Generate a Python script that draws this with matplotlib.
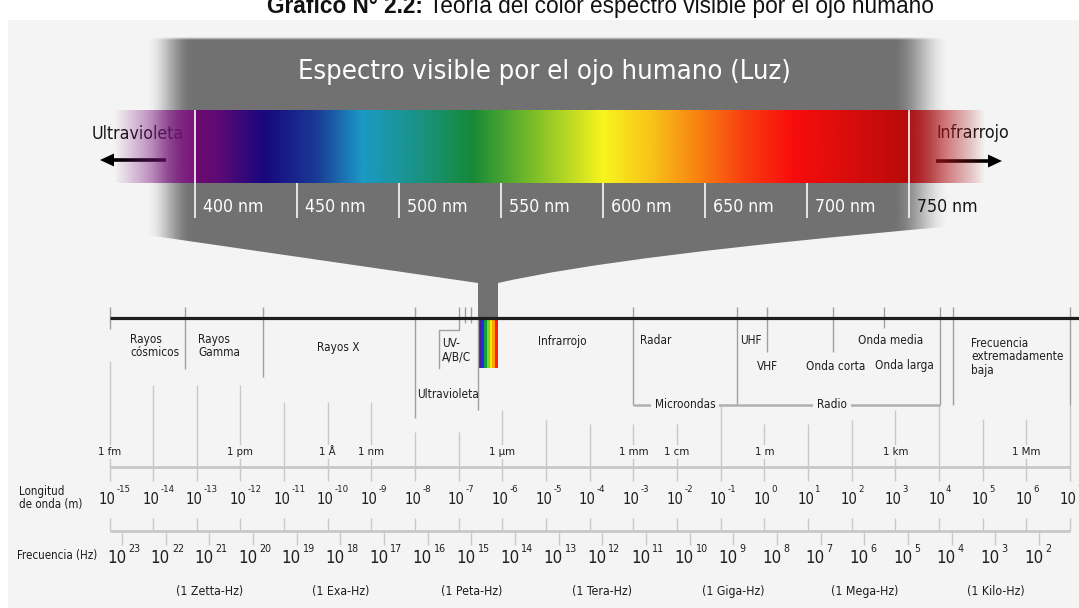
import numpy as np
import matplotlib
matplotlib.use("Agg")
import matplotlib.pyplot as plt
from matplotlib import font_manager as fm
from matplotlib.colors import to_rgb
from matplotlib.patches import Rectangle, PathPatch, FancyArrow
from matplotlib.path import Path
from matplotlib.transforms import offset_copy

# ---------------- data ----------------
title_bold = "Gráfico N° 2.2:"
title_rest = "Teoría del color espectro visible por el ojo humano"
spectrum_title = "Espectro visible por el ojo humano (Luz)"

nm_ticks = [400, 450, 500, 550, 600, 650, 700, 750]
nm_labels = [f"{v} nm" for v in nm_ticks]
spec_nm = [400, 410, 434, 460, 482, 505, 536, 565, 600, 625, 650, 670, 694, 725, 750]
spec_colors = ['#6e0a70', '#600a74', '#17077e', '#1a3c96', '#1a9ac6', '#1a9490',
               '#168a38', '#78bc28', '#f8f41e', '#f8c018', '#f87810', '#f83c10',
               '#f80c0c', '#d40c0c', '#b80a0a']
uv_text = "Ultravioleta"
ir_text = "Infrarrojo"

wl_exps = list(range(-15, 8))
unit_exps = [-15, -12, -10, -9, -6, -3, -2, 0, 3, 6]
unit_labels = ['1 fm', '1 pm', '1 Å', '1 nm', '1 µm', '1 mm', '1 cm', '1 m', '1 km', '1 Mm']
freq_exps = list(range(23, 1, -1))
freq_name_exps = [21, 18, 15, 12, 9, 6, 3]
freq_names = ['(1 Zetta-Hz)', '(1 Exa-Hz)', '(1 Peta-Hz)', '(1 Tera-Hz)',
              '(1 Giga-Hz)', '(1 Mega-Hz)', '(1 Kilo-Hz)']
FREQ_SHIFT = 8.29   # log10 wavelength of a frequency tick = FREQ_SHIFT - log10 f

band_edges = [-15.0, -13.27, -11.49, -8.0, -3.0, -0.63, 0.06, 1.57, 2.74, 4.02, 4.31, 7.0]
uv_sub_edges = [-7.0, -6.86, -6.72]
visible_exp = (-6.55, -6.10)
rainbow = ['#4a1a9a', '#1e2ed6', '#10a040', '#8cd020', '#f4ec00', '#ffa000', '#ff2010']
band_names = ["Rayos\ncósmicos", "Rayos\nGamma", "Rayos X", "UV-\nA/B/C", "Ultravioleta",
              "Infrarrojo", "Radar", "UHF", "VHF", "Onda corta", "Onda media",
              "Onda larga", "Frecuencia\nextremadamente\nbaja"]
band_name_x = [-14.53, -12.97, -9.77, -7.39, -7.95, -5.19, -2.85, -0.56, -0.17,
               0.95, 2.14, 2.53, 4.73]
bracket_names = ["Microondas", "Radio"]
bracket_span = (-3.0, 4.02)
bracket_name_x = [-1.82, 1.55]
axis_names = ["Longitud\nde onda (m)", "Frecuencia (Hz)"]

# ---------------- layout / style ----------------
W, H = 1079, 608
BG = '#f4f4f4'
GRAY = '#717171'
LINE = '#c8c8c8'
EDGE = '#a0a0a0'
TXT = '#1e1e1e'
PX0, PPD = 764.4, 43.66          # pixel of 10^0 m, pixels per decade
NM0_PX, PPN = 195.0, 2.04        # pixel of 400 nm, pixels per nm

band_name_y = [346, 346, 347, 350, 395, 341, 341, 341, 366, 366, 341, 366, 357]
band_name_ha = ['left', 'left', 'center', 'left', 'left', 'left', 'left', 'left',
                'left', 'left', 'left', 'left', 'left']
band_name_w = [49, 41, 43, 33, 62, 52, 30, 20, 18, 59, 63, 59, 88]
band_edge_bottom = [329, 369, 377, 418, 405, 405, 352, 352, 328, 405, 405, 405]
grid_top = [361, 385, 385, 385, 402, 402, 402, 432, 432, 410, 420, 424, 424, 424,
            406, 424, 424, 420, 410, 405, 419, 419, 405]
unit_w = [28, 27, 17, 27, 26, 29, 26, 19, 26, 27]
freq_name_w = [67, 57, 63, 61, 62, 68, 56]
TITLE_X0, TITLE_W, TITLE_BASE = 267, 669, 13


def pick_narrow():
    names = {f.name for f in fm.fontManager.ttflist}
    if 'Liberation Sans Narrow' in names:
        return dict(family='Liberation Sans Narrow')
    for f in fm.fontManager.ttflist:
        if f.name == 'DejaVu Sans' and 'condensed' in str(f.stretch).lower():
            return dict(family='DejaVu Sans', stretch='condensed')
    return dict(family='DejaVu Sans')


NARROW = pick_narrow()

fig = plt.figure(figsize=(W / 100, H / 100), dpi=100, facecolor='white')


def overlay(xlim, z):
    ax = fig.add_axes([0, 0, 1, 1], zorder=z)
    ax.set_xlim(*xlim)
    ax.set_ylim(H, 0)
    ax.axis('off')
    ax.patch.set_visible(False)
    return ax


ax_px = overlay((0, W), 0)
ax_nm = overlay((400 - NM0_PX / PPN, 400 + (W - NM0_PX) / PPN), 1)
ax_wl = overlay((-PX0 / PPD, (W - PX0) / PPD), 2)

groups = {}


def T(ax, x, y, s, group=None, target=None, **kw):
    t = ax.text(x, y, s, **kw)
    if group is not None:
        groups.setdefault(group, []).append((t, target))
    return t


def smooth(t):
    t = np.clip(t, 0, 1)
    return t * t * (3 - 2 * t)


# background
ax_px.add_patch(Rectangle((8, 20), W - 8, H - 20, fc=BG, ec='none', zorder=0))

# page title (cut at the top, as in the source)
t_bold = ax_px.text(TITLE_X0, TITLE_BASE, title_bold, ha='left', va='baseline',
                    family='Liberation Sans', fontweight='bold', fontsize=16,
                    color='#111111')
t_rest = ax_px.text(TITLE_X0 + 160, TITLE_BASE, title_rest, ha='left', va='baseline',
                    family='Liberation Sans', fontsize=16, color='#111111')

# gray funnel
MO, LI, C3, CL = Path.MOVETO, Path.LINETO, Path.CURVE3, Path.CLOSEPOLY
verts = [(140, 37), (955, 37), (955, 226), (620, 255), (498, 283), (498, 319),
         (478, 319), (478, 283), (140, 234), (140, 37)]
codes = [MO, LI, LI, C3, C3, LI, LI, LI, LI, CL]
funnel = PathPatch(Path(verts, codes), fc='none', ec='none')
ax_px.add_patch(funnel)
xs = np.linspace(140, 955, 816)
ys = np.linspace(37, 320, 284)
alpha = np.outer(smooth((ys - 36) / 4.0),
                 smooth((xs - 146) / 46.0) * smooth((950 - xs) / 57.0))
rgba = np.zeros((len(ys), len(xs), 4))
rgba[..., :3] = to_rgb(GRAY)
rgba[..., 3] = alpha
im = ax_px.imshow(rgba, extent=(140, 955, 320, 37), origin='upper', aspect='auto',
                  interpolation='bilinear', zorder=1)
im.set_clip_path(funnel)
ax_px.set_xlim(0, W)
ax_px.set_ylim(H, 0)

T(ax_px, 544, 72, spectrum_title, 'spec', 492, ha='center', va='center',
  color='white', fontsize=20, **NARROW)

# visible spectrum bar
nm = np.linspace(400, 750, 701)
cols = np.array([to_rgb(c) for c in spec_colors])
grad = np.stack([np.interp(nm, spec_nm, cols[:, i]) for i in range(3)], axis=-1)
ax_nm.imshow(grad[None], extent=(400, 750, 183, 110), aspect='auto',
             interpolation='bilinear', zorder=2)
UV_START = 400 - (NM0_PX - 114) / PPN
IR_END = 750 + (985 - 909) / PPN
nmu = np.linspace(UV_START, 400, 120)
uv = np.zeros((1, len(nmu), 4))
uv[..., :3] = to_rgb('#7c1480')
uv[0, :, 3] = (nmu - UV_START) / (400 - UV_START)
ax_nm.imshow(uv, extent=(UV_START, 400, 183, 110), aspect='auto',
             interpolation='bilinear', zorder=2)
nmi = np.linspace(750, IR_END, 120)
ir = np.zeros((1, len(nmi), 4))
ir[..., :3] = to_rgb('#b01418')
ir[0, :, 3] = (1 - (nmi - 750) / (IR_END - 750)) ** 0.9
ax_nm.imshow(ir, extent=(750, IR_END, 183, 110), aspect='auto',
             interpolation='bilinear', zorder=2)
ax_nm.set_xlim(400 - NM0_PX / PPN, 400 + (W - NM0_PX) / PPN)
ax_nm.set_ylim(H, 0)

ax_nm.vlines([nm_ticks[0], nm_ticks[-1]], 110, 218, color='#eeeeee', lw=1.3, zorder=3)
ax_nm.vlines(nm_ticks[1:-1], 183, 218, color='#eeeeee', lw=1.3, zorder=3)
tr_nm = offset_copy(ax_nm.transData, fig=fig, x=8, y=0, units='dots')
for v, lab in zip(nm_ticks, nm_labels):
    T(ax_nm, v, 207, lab, 'top', 61, ha='left', va='center', transform=tr_nm,
      color='white' if v < 750 else '#151515', fontsize=13, zorder=4, **NARROW)

T(ax_px, 138, 134, uv_text, 'top', 93, ha='center', va='center', color='#151515',
  fontsize=13, zorder=4, **NARROW)
T(ax_px, 973, 133, ir_text, 'top', 76, ha='center', va='center', color='#151515',
  fontsize=13, zorder=4, **NARROW)
ax_px.add_patch(FancyArrow(166, 160, -66, 0, width=3.6, head_width=13, head_length=14,
                           length_includes_head=True, fc='black', ec='none', zorder=5))
ax_px.add_patch(FancyArrow(936, 161, 66, 0, width=3.6, head_width=13, head_length=14,
                           length_includes_head=True, fc='black', ec='none', zorder=5))

# ---------------- lower chart (x = log10 wavelength in m) ----------------
XR = (W - PX0) / PPD
edges = np.linspace(visible_exp[0], visible_exp[1], len(rainbow) + 1)
ax_wl.bar((edges[:-1] + edges[1:]) / 2, 50, width=np.diff(edges), bottom=318,
          color=rainbow, align='center', zorder=2, linewidth=0)
ax_wl.plot([wl_exps[0], XR], [318, 318], color='#1e1e1e', lw=2.3, zorder=4,
           solid_capstyle='butt')
ax_wl.vlines(band_edges, 307, band_edge_bottom, color=EDGE, lw=1.0, zorder=3)
ax_wl.vlines(uv_sub_edges, 307, 323, color=EDGE, lw=1.0, zorder=3)
ax_wl.plot([uv_sub_edges[0], uv_sub_edges[0], -7.45, -7.45], [323, 330, 330, 368],
           color=EDGE, lw=1.0, zorder=3)
ax_wl.vlines(visible_exp[0], 318, 410, color=EDGE, lw=1.0, zorder=3)
ax_wl.plot(bracket_span, [405, 405], color='#b0b0b0', lw=1.8, zorder=3,
           solid_capstyle='butt')

for s, x, y, ha, w in zip(band_names, band_name_x, band_name_y, band_name_ha, band_name_w):
    T(ax_wl, x, y, s, 'band', w, ha=ha, va='center', color=TXT, fontsize=8.5,
      linespacing=1.05, zorder=5, **NARROW)
for s, x in zip(bracket_names, bracket_name_x):
    T(ax_wl, x, 405, s, 'band', None, ha='center', va='center', color=TXT,
      fontsize=8.5, zorder=5,
      bbox=dict(boxstyle='square,pad=0.35', fc=BG, ec='none'), **NARROW)

# wavelength grid and axes
ax_wl.vlines(wl_exps, grid_top, 481, color=LINE, lw=1.0, zorder=1)
ax_wl.hlines([467, 531], wl_exps[0], wl_exps[-1], color=LINE, lw=2.0, zorder=1)
ax_wl.vlines(wl_exps, 518, 531, color=LINE, lw=1.0, zorder=1)
f_pos = [FREQ_SHIFT - f for f in freq_exps]
ax_wl.vlines(f_pos, 531, 545, color=LINE, lw=1.0, zorder=1)

for e, s, w in zip(unit_exps, unit_labels, unit_w):
    T(ax_wl, e, 452, s, 'unit', w, ha='center', va='center', color=TXT, fontsize=9.5,
      zorder=5, bbox=dict(boxstyle='square,pad=0.15', fc=BG, ec='none'), **NARROW)

tr_b = offset_copy(ax_wl.transData, fig=fig, x=6, y=0, units='dots')
tr_e = offset_copy(ax_wl.transData, fig=fig, x=7, y=0, units='dots')
for e in wl_exps:
    T(ax_wl, e, 499, '10', 'b10', 17, ha='right', va='center', transform=tr_b,
      color=TXT, fontsize=10.5, zorder=5, **NARROW)
    T(ax_wl, e, 490, str(e), 'b10', None, ha='left', va='center', transform=tr_e,
      color=TXT, fontsize=10.5 * 0.64, zorder=5, **NARROW)

tr_fb = offset_copy(ax_wl.transData, fig=fig, x=4, y=0, units='dots')
tr_fe = offset_copy(ax_wl.transData, fig=fig, x=6, y=0, units='dots')
for f, x in zip(freq_exps, f_pos):
    T(ax_wl, x, 558, '10', 'f10', 19, ha='right', va='center', transform=tr_fb,
      color=TXT, fontsize=11, zorder=5, **NARROW)
    T(ax_wl, x, 549, str(f), 'f10', None, ha='left', va='center', transform=tr_fe,
      color=TXT, fontsize=11 * 0.64, zorder=5, **NARROW)

for f, s, w in zip(freq_name_exps, freq_names, freq_name_w):
    T(ax_wl, FREQ_SHIFT - f, 591, s, 'fname', w, ha='center', va='center', color=TXT,
      fontsize=8.8, zorder=5, **NARROW)

T(ax_px, 19, 498, axis_names[0], 'axn', 67, ha='left', va='center', color=TXT,
  fontsize=8.5, linespacing=1.05, **NARROW)
T(ax_px, 17, 556, axis_names[1], 'axn', 76.5, ha='left', va='center', color=TXT,
  fontsize=8.5, **NARROW)

# fit text sizes to the reference widths (group-wise)
fig.canvas.draw()
r = fig.canvas.get_renderer()
for g, items in groups.items():
    ratios = [tw / t.get_window_extent(r).width for t, tw in items if tw]
    k = float(np.median(ratios))
    for t, _ in items:
        t.set_fontsize(t.get_fontsize() * k)

# title: bold part + regular part spanning the reference width
wb = t_bold.get_window_extent(r).width
wr = t_rest.get_window_extent(r).width
gap = 0.278 * t_bold.get_fontsize() * 100 / 72
k = TITLE_W / (wb + gap + wr)
for t in (t_bold, t_rest):
    t.set_fontsize(t.get_fontsize() * k)
fig.canvas.draw()
wb = t_bold.get_window_extent(r).width
t_rest.set_x(TITLE_X0 + wb + 0.278 * t_bold.get_fontsize() * 100 / 72)

fig.savefig('out.png', dpi=100, facecolor='white')
